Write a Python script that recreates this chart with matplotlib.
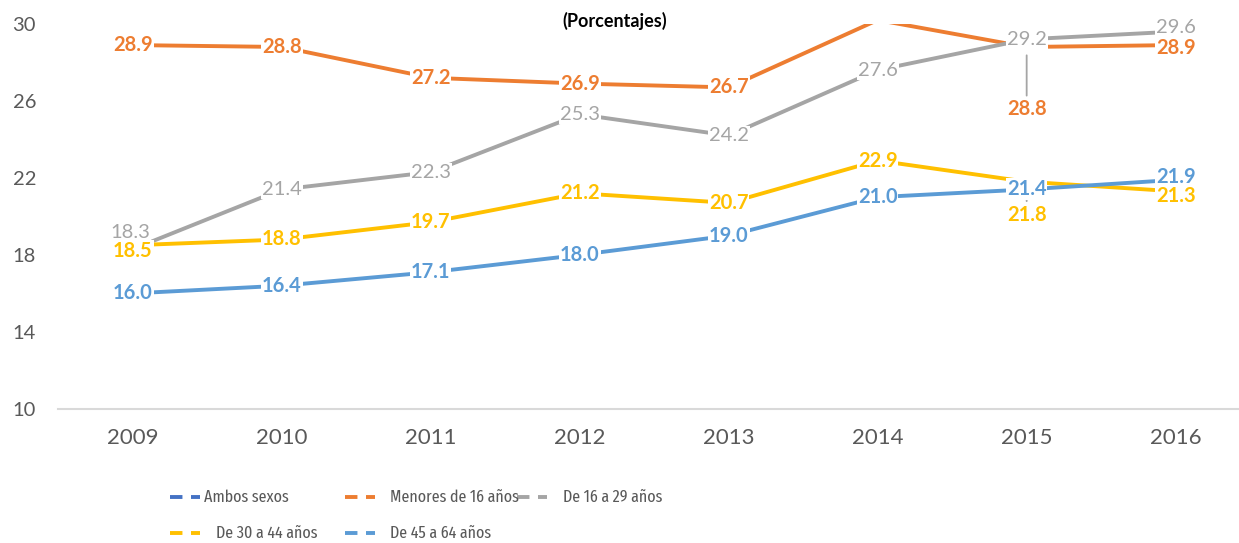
import matplotlib
matplotlib.use("Agg")
from matplotlib import pyplot as plt
from matplotlib.lines import Line2D

plt.rcParams['font.family'] = ['Lato', 'DejaVu Sans']

years = ['2009', '2010', '2011', '2012', '2013', '2014', '2015', '2016']
menores_16 = [28.9, 28.8, 27.2, 26.9, 26.7, 30.2, 28.8, 28.9]
de_16_29 = [18.3, 21.4, 22.3, 25.3, 24.2, 27.6, 29.2, 29.6]
de_30_44 = [18.5, 18.8, 19.7, 21.2, 20.7, 22.9, 21.8, 21.3]
de_45_64 = [16.0, 16.4, 17.1, 18.0, 19.0, 21.0, 21.4, 21.9]

series = [
    ('Menores de 16 años', menores_16, '#ED7D31', 'bold'),
    ('De 16 a 29 años', de_16_29, '#A5A5A5', 'normal'),
    ('De 30 a 44 años', de_30_44, '#FFC000', 'bold'),
    ('De 45 a 64 años', de_45_64, '#5B9BD5', 'bold'),
]

# label nudges in points (series, index) -> (dx, dy, leader line)
nudges = {
    ('De 16 a 29 años', 0): (-2, 12, False),
    ('De 30 a 44 años', 0): (0, -4, False),
    ('Menores de 16 años', 6): (0, -45, True),
    ('De 30 a 44 años', 6): (0, -24, True),
    ('De 16 a 29 años', 7): (0, 3, False),
    ('Menores de 16 años', 7): (0, -2, False),
    ('De 45 a 64 años', 7): (0, 2, False),
    ('De 30 a 44 años', 7): (0, -3, False),
}

fig = plt.figure(figsize=(12.39, 5.43), dpi=100)
ax = fig.add_axes([0.047, 0.247, 0.962, 0.709])

x = range(len(years))
for name, vals, color, weight in series:
    ax.plot(x, vals, color=color, lw=2.8, solid_capstyle='butt', zorder=2)

# earlier series sit on top of later ones, as in the source
for k, (name, vals, color, weight) in enumerate(series):
    for i, v in enumerate(vals):
        if v > 30:
            continue
        dx, dy, leader = nudges.get((name, i), (0, 0, False))
        if leader:
            ax.annotate('', (i, v), xytext=(dx, dy + 10), textcoords='offset points',
                        arrowprops=dict(arrowstyle='-', color='#A5A5A5', lw=1.3,
                                        shrinkA=0, shrinkB=6), zorder=3)
        ax.annotate(f'{v:.1f}', (i, v), xytext=(dx, dy), textcoords='offset points',
                    ha='center', va='center', fontsize=14.5, color=color,
                    fontweight=weight, zorder=10 - k,
                    bbox=dict(boxstyle='square,pad=0.05', fc='white', ec='none'))

ax.set_ylim(10, 30)
ax.set_yticks([10, 14, 18, 22, 26, 30])
ax.set_xlim(-0.5, 7.5)
ax.set_xticks(list(x))
ax.set_xticklabels(years)
for s in ['top', 'right', 'left']:
    ax.spines[s].set_visible(False)
ax.spines['bottom'].set_color('#D9D9D9')
ax.spines['bottom'].set_linewidth(1.5)
ax.tick_params(axis='both', length=0, colors='#595959')
ax.tick_params(axis='x', pad=14, labelsize=16)
ax.tick_params(axis='y', pad=16, labelsize=14.5)

fig.text(0.496, 0.962, '(Porcentajes)', ha='center', va='center',
         fontsize=13, fontweight='bold', color='black')

# legend, laid out like the original (condensed type as in the source)
legend_items = [
    ('Ambos sexos', '#4472C4', 170, 497, 204),
    ('Menores de 16 años', '#ED7D31', 345, 497, 390),
    ('De 16 a 29 años', '#A5A5A5', 517, 497, 563),
    ('De 30 a 44 años', '#FFC000', 170, 533, 216),
    ('De 45 a 64 años', '#5B9BD5', 345, 533, 390),
]
W, H = 1239, 543
for label, color, hx, hy, tx in legend_items:
    fig.add_artist(Line2D([hx / W, (hx + 30) / W], [1 - hy / H, 1 - hy / H],
                          color=color, lw=2.8, dashes=(3.2, 2.2)))
    fig.text(tx / W, 1 - hy / H, label, ha='left', va='center', fontsize=12.5,
             family=['Fira Sans Extra Condensed', 'Lato'], color='#595959')

fig.savefig('out.png', dpi=100)
